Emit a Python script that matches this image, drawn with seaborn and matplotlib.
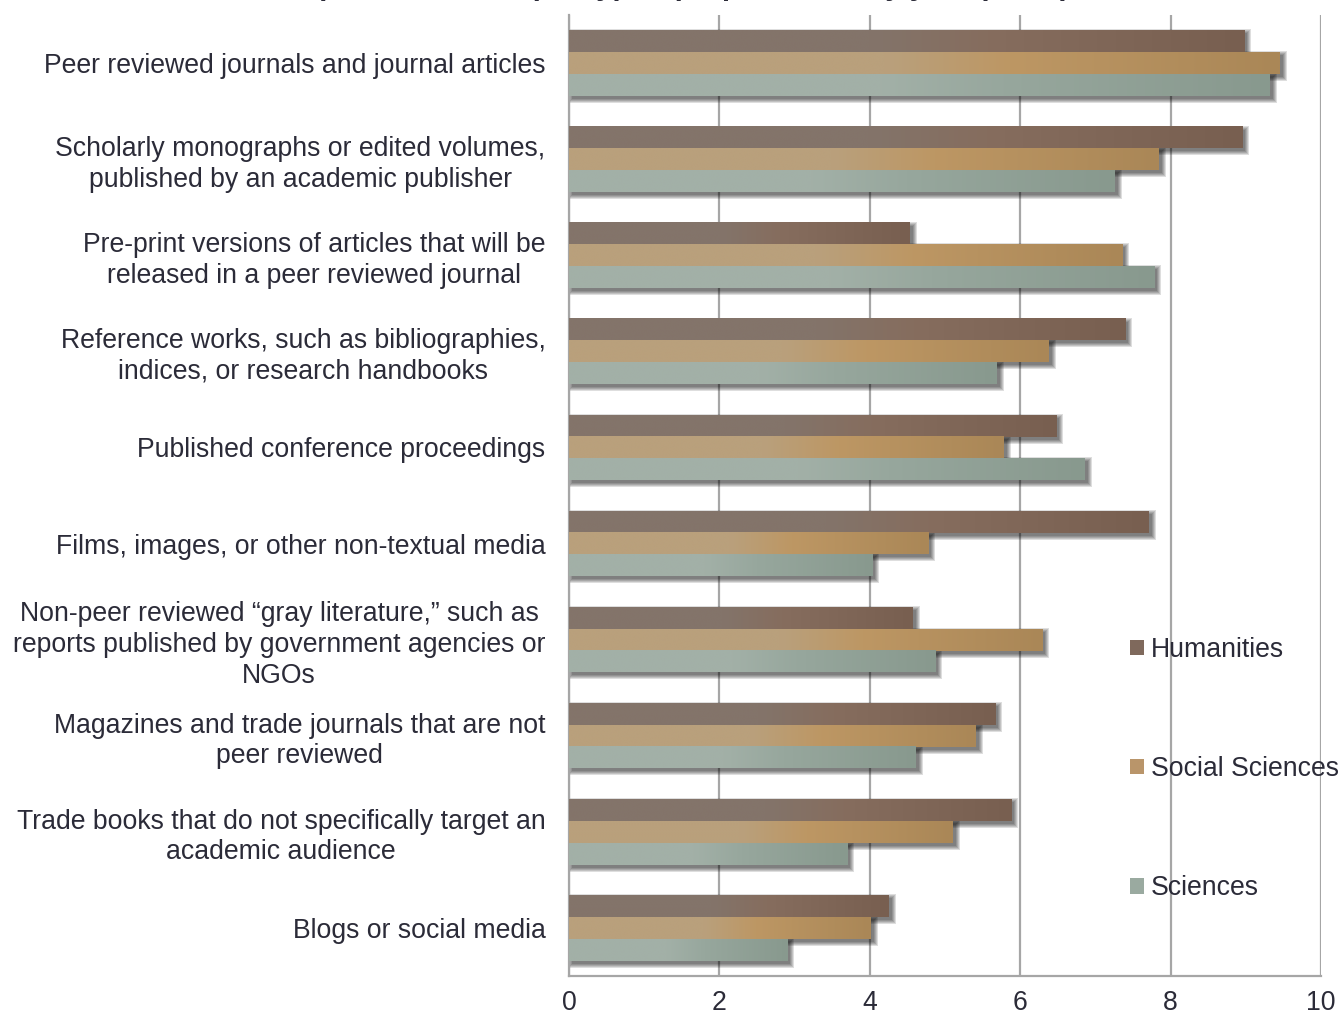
import matplotlib
matplotlib.use('Agg')
import matplotlib.pyplot as plt
import matplotlib.transforms as mtransforms
from matplotlib.colors import LinearSegmentedColormap
from matplotlib.patches import Rectangle, Patch
import seaborn as sns
import pandas as pd
import numpy as np

# data
categories = [
    'Peer reviewed journals and journal articles',
    'Scholarly monographs or edited volumes,\npublished by an academic publisher',
    'Pre-print versions of articles that will be\nreleased in a peer reviewed journal',
    'Reference works, such as bibliographies,\nindices, or research handbooks',
    'Published conference proceedings',
    'Films, images, or other non-textual media',
    'Non-peer reviewed \u201cgray literature,\u201d such as\nreports published by government agencies or\nNGOs',
    'Magazines and trade journals that are not\npeer reviewed',
    'Trade books that do not specifically target an\nacademic audience',
    'Blogs or social media',
]
disciplines = ['Humanities', 'Social Sciences', 'Sciences']
humanities = [8.98, 8.95, 4.53, 7.40, 6.48, 7.71, 4.57, 5.67, 5.88, 4.25]
social_sciences = [9.45, 7.84, 7.36, 6.38, 5.78, 4.78, 6.29, 5.41, 5.10, 4.01]
sciences = [9.32, 7.26, 7.78, 5.69, 6.86, 4.03, 4.87, 4.61, 3.70, 2.90]
xticks = [0, 2, 4, 6, 8, 10]

# gradient stops per series (light left -> darker right)
grads = {
    'Humanities': ['#84746a', '#83746a', '#866d5e', '#785f50'],
    'Social Sciences': ['#b9a07c', '#b9a07c', '#bd9764', '#aa8757'],
    'Sciences': ['#a3b0a7', '#a2b0a7', '#97a79d', '#88998e'],
}
mid = {'Humanities': '#7f695c', 'Social Sciences': '#b9956a', 'Sciences': '#9aaaa0'}

df = pd.DataFrame({
    'category': categories * 3,
    'discipline': np.repeat(disciplines, len(categories)),
    'value': humanities + social_sciences + sciences,
})

sns.set_style('white')
plt.rcParams['font.family'] = ['Liberation Sans', 'DejaVu Sans']
text_color = '#2b2b38'
grid_color = '#a6a6a6'
fs = 19.2

fig = plt.figure(figsize=(13.41, 10.23), dpi=100)
ax = fig.add_axes([0.4243, 0.0459, 0.5608, 0.9394])

sns.barplot(data=df, y='category', x='value', hue='discipline', orient='h',
            width=0.68, palette=mid, ax=ax, legend=False, saturation=1)

ax.set_xlim(0, 10)
ax.set_ylim(9.5, -0.5)

px_x = 10 / (0.5608 * 1341)
px_y = 10 / (0.9394 * 1023)

shadow_off = mtransforms.ScaledTranslation(3 / 100, -3 / 100, fig.dpi_scale_trans)
for name, cont in zip(disciplines, ax.containers):
    cmap = LinearSegmentedColormap.from_list(name, list(zip([0, 0.45, 0.62, 1], grads[name])))
    for bar in cont:
        x0, y0 = bar.get_x(), bar.get_y()
        w, h = bar.get_width(), bar.get_height()
        # soft drop shadow
        for k in [4, 3, 2, 1, 0]:
            ax.add_patch(Rectangle((x0 - k * px_x, y0 - k * px_y), w + 2 * k * px_x, h + 2 * k * px_y,
                                   facecolor='black', edgecolor='none', alpha=0.13,
                                   transform=ax.transData + shadow_off, zorder=2))
        bar.set_visible(False)
        ax.imshow(np.linspace(0, 1, 256).reshape(1, -1), cmap=cmap, aspect='auto',
                  extent=(x0, x0 + w, y0 + h, y0), interpolation='bicubic', zorder=3)

ax.set_xlim(0, 10)
ax.set_ylim(9.5, -0.5)

# axes styling
ax.set_xlabel('')
ax.set_ylabel('')
ax.set_xticks(xticks)
ax.xaxis.grid(True, color=grid_color, linewidth=1.6, zorder=0)
ax.set_axisbelow(True)
for s in ['top', 'right']:
    ax.spines[s].set_visible(False)
for s in ['left', 'bottom']:
    ax.spines[s].set_color(grid_color)
    ax.spines[s].set_linewidth(1.6)
ax.tick_params(axis='x', length=6, width=1.6, color=grid_color, pad=4,
               labelsize=fs, labelcolor=text_color)
ax.tick_params(axis='y', which='major', length=0, pad=17, labelsize=fs, labelcolor=text_color)
ax.set_yticks(range(len(categories)))
ax.set_yticklabels(categories, multialignment='center', linespacing=1.23)
ax.set_yticks(np.arange(-0.5, len(categories), 1), minor=True)
ax.tick_params(axis='y', which='minor', length=6, width=1.6, color=grid_color)

# title (clipped at the top edge in the reference: only descenders show)
fig.text(0.505, 1.005, 'Importance of output types (as perceived by your peers)',
         ha='center', va='baseline', fontsize=fs + 2, fontweight='bold', color=text_color)

handles = [Patch(facecolor=mid[d], edgecolor='none') for d in disciplines]
fig.legend(handles, disciplines, loc='upper left', bbox_to_anchor=(0.8427, 0.3775),
           frameon=False, fontsize=fs, labelcolor=text_color, borderpad=0, borderaxespad=0,
           handlelength=0.52, handleheight=0.52, handletextpad=0.26, labelspacing=3.5)

fig.savefig('out.png', dpi=100)
